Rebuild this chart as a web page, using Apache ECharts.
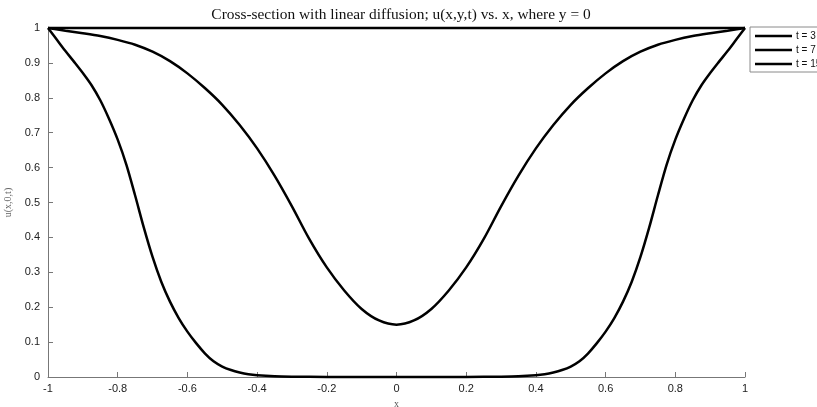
<!DOCTYPE html>
<html>
<head>
<meta charset="utf-8">
<script src="https://cdn.jsdelivr.net/npm/echarts@6/dist/echarts.min.js"></script>
<style>
html,body{margin:0;padding:0;background:#fff;}
#c{width:817px;height:407px;}
</style>
</head>
<body>
<div id="c"></div>
<script>
// ---- data ----
var titleText = 'Cross-section with linear diffusion; u(x,y,t) vs. x, where y = 0';
var seriesNames = ['t = 3', 't = 7', 't = 15'];
var xTicks = [-1, -0.8, -0.6, -0.4, -0.2, 0, 0.2, 0.4, 0.6, 0.8, 1];
var yTicks = [0, 0.1, 0.2, 0.3, 0.4, 0.5, 0.6, 0.7, 0.8, 0.9, 1];

// t = 3 (narrow profile)
var x_t3 = [-1, -0.975, -0.95, -0.925, -0.9, -0.875, -0.85, -0.825, -0.8, -0.775, -0.75, -0.725, -0.7, -0.675, -0.65, -0.625, -0.6, -0.575, -0.55, -0.525, -0.5, -0.475, -0.45, -0.425, -0.4, -0.35, -0.3, -0.2, -0.1, 0,
            0.1, 0.2, 0.3, 0.35, 0.4, 0.425, 0.45, 0.475, 0.5, 0.525, 0.55, 0.575, 0.6, 0.625, 0.65, 0.675, 0.7, 0.725, 0.75, 0.775, 0.8, 0.825, 0.85, 0.875, 0.9, 0.925, 0.95, 0.975, 1];
var u_t3 = [1, 0.967, 0.934, 0.903, 0.871, 0.836, 0.793, 0.74, 0.68, 0.608, 0.52, 0.428, 0.344, 0.273, 0.216, 0.169, 0.13, 0.097, 0.068, 0.045, 0.03, 0.02, 0.013, 0.008, 0.005, 0.002, 0.001, 0.0003, 0.0001, 0,
            0.0001, 0.0003, 0.001, 0.002, 0.005, 0.008, 0.013, 0.02, 0.03, 0.045, 0.068, 0.097, 0.13, 0.169, 0.216, 0.273, 0.344, 0.428, 0.52, 0.608, 0.68, 0.74, 0.793, 0.836, 0.871, 0.903, 0.934, 0.967, 1];

// t = 7 (middle profile, min ~0.15)
var x_t7 = [-1, -0.95, -0.9, -0.85, -0.8, -0.75, -0.7, -0.65, -0.6, -0.55, -0.5, -0.45, -0.4, -0.35, -0.3, -0.25, -0.2, -0.15, -0.1, -0.05, 0,
            0.05, 0.1, 0.15, 0.2, 0.25, 0.3, 0.35, 0.4, 0.45, 0.5, 0.55, 0.6, 0.65, 0.7, 0.75, 0.8, 0.85, 0.9, 0.95, 1];
var u_t7 = [1, 0.992, 0.985, 0.977, 0.966, 0.952, 0.932, 0.905, 0.87, 0.828, 0.78, 0.722, 0.655, 0.577, 0.489, 0.395, 0.314, 0.248, 0.195, 0.162, 0.15,
            0.162, 0.195, 0.248, 0.314, 0.395, 0.489, 0.577, 0.655, 0.722, 0.78, 0.828, 0.87, 0.905, 0.932, 0.952, 0.966, 0.977, 0.985, 0.992, 1];

// t = 15 (flat at 1)
var x_t15 = [-1, -0.5, 0, 0.5, 1];
var u_t15 = [1, 1, 1, 1, 1];

function pairs(xs, ys){ return xs.map(function(x,i){ return [x, ys[i]]; }); }

var chart = echarts.init(document.getElementById('c'), null, {renderer:'canvas'});

var lineCommon = {
  type: 'line', symbol: 'none', smooth: 0.3, clip: false,
  lineStyle: {color: '#000', width: 2.5}, itemStyle: {color: '#000'}
};

chart.setOption({
  animation: false,
  backgroundColor: '#fff',
  title: {
    text: titleText, left: 396, textAlign: 'center', top: 2,
    textStyle: {fontFamily: 'Liberation Serif', fontSize: 15.4, fontWeight: 'normal', color: '#111'}
  },
  legend: {
    orient: 'vertical', left: 750, top: 27,
    data: seriesNames.map(function(n){ return {name: n, icon: 'rect'}; }),
    itemWidth: 37, itemHeight: 2.5, itemGap: 4,
    padding: [4, 4, 3, 5],
    borderColor: '#8a8a8a', borderWidth: 1, backgroundColor: '#fff',
    textStyle: {fontFamily: 'Liberation Sans', fontSize: 10, color: '#111', padding: [0,0,0,-1]}
  },
  grid: {left: 48, right: 72, top: 28, bottom: 30, containLabel: false, outerBoundsMode: 'none'},
  xAxis: {
    type: 'value', min: -1, max: 1, interval: 0.2,
    name: 'x', nameLocation: 'middle', nameGap: 22,
    nameTextStyle: {fontFamily: 'Liberation Serif', fontSize: 10, color: '#555'},
    axisLine: {show: true, onZero: false, lineStyle: {color: '#777', width: 1}},
    axisTick: {show: true, inside: true, length: 5, lineStyle: {color: '#777'}},
    axisLabel: {fontFamily: 'Liberation Sans', fontSize: 11, color: '#222', margin: 6,
      formatter: function(v){ var i = xTicks.indexOf(Math.round(v*10)/10); return i >= 0 ? String(xTicks[i]) : ''; }},
    splitLine: {show: false}
  },
  yAxis: {
    type: 'value', min: 0, max: 1, interval: 0.1,
    name: 'u(x,0,t)', nameLocation: 'middle', nameGap: 27, nameRotate: 90,
    nameTextStyle: {fontFamily: 'Liberation Serif', fontSize: 10, color: '#666'},
    axisLine: {show: true, onZero: false, lineStyle: {color: '#777', width: 1}},
    axisTick: {show: true, inside: true, length: 5, lineStyle: {color: '#777'}},
    axisLabel: {fontFamily: 'Liberation Sans', fontSize: 11, color: '#222', margin: 8,
      formatter: function(v){ var i = yTicks.indexOf(Math.round(v*10)/10); return i >= 0 ? String(yTicks[i]) : ''; }},
    splitLine: {show: false}
  },
  series: [
    Object.assign({}, lineCommon, {name: seriesNames[0], data: pairs(x_t3, u_t3)}),
    Object.assign({}, lineCommon, {name: seriesNames[1], data: pairs(x_t7, u_t7)}),
    Object.assign({}, lineCommon, {name: seriesNames[2], data: pairs(x_t15, u_t15), smooth: false})
  ]
});
</script>
</body>
</html>
